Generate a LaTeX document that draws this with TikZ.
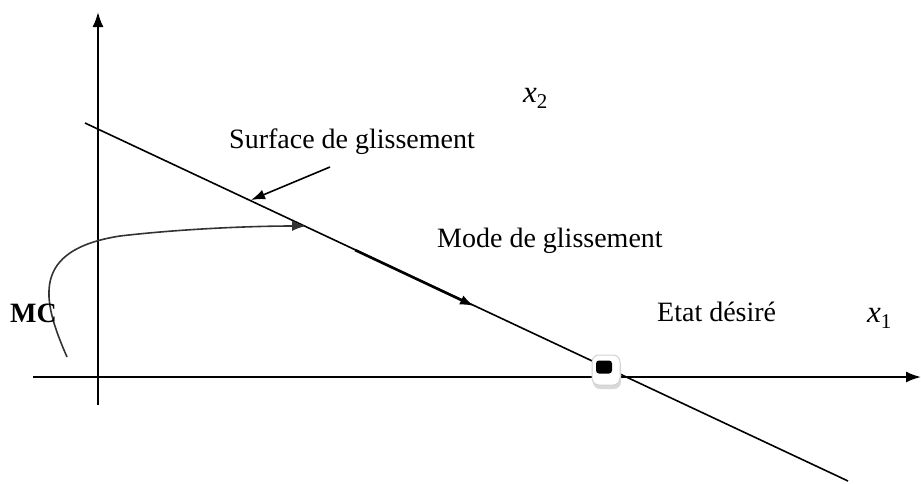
\documentclass[tikz,border=0pt]{standalone}
\usepackage{fontspec}
\setmainfont{Liberation Serif}
\usetikzlibrary{arrows.meta}
\newcommand{\varlbl}[1]{\textit{x}\raisebox{-6pt}{\fontsize{21}{24}\selectfont #1}}
\begin{document}
\begin{tikzpicture}[x=1pt,y=-1pt,
  axis/.style={line width=2pt,-{Latex[length=15pt,width=11pt]}},
  ln/.style={line width=1.6pt},
  tipped/.style={-{Latex[length=14pt,width=10pt]}},
  lbl/.style={font=\fontsize{28}{34}\selectfont,inner sep=0pt,anchor=base west},
  mathlbl/.style={font=\fontsize{31}{36}\selectfont,inner sep=0pt,anchor=base west},
  marker/.style={draw=gray!35,line width=1pt,fill=white,rounded corners=7pt,minimum width=28pt,minimum height=30pt,inner sep=0pt},
  core/.style={fill=black,rounded corners=3pt,minimum width=16pt,minimum height=13pt,inner sep=0pt},
]
\useasboundingbox (0,0) rectangle (921,483);
% coordinates
\coordinate (vb) at (98,405);
\coordinate (vt) at (98,12);
\coordinate (hl) at (33,377);
\coordinate (hr) at (921,377);
\coordinate (sa) at (85,123);
\coordinate (sb) at (848,481);
\coordinate (ma) at (355,250);
\coordinate (mb) at (474,306);
\coordinate (sp) at (330,167);
\coordinate (st) at (251,200);
\coordinate (c0) at (67,357);
\coordinate (c1) at (306,226);
% axes
\draw[axis] (vb) -- (vt);
\draw[axis] (hl) -- (hr);
% sliding surface
\draw[ln] (sa) -- (sb);
% sliding mode arrow
\draw[line width=2.6pt,tipped] (ma) -- (mb);
% label arrow
\draw[ln,tipped] (sp) -- (st);
% reaching trajectory
\draw[ln,black!80,tipped] (c0) .. controls (42,300) and (30,250) .. (120,236)
  .. controls (180,229) and (250,226) .. (c1);
% equilibrium marker
\fill[gray!30,rounded corners=7pt] (593,359) rectangle (621,389);
\node[marker] (eq) at (606,370) {};
\node[core] (eqc) at (604,367) {};
% labels
\node[lbl] (sg) at (229,148) {Surface de glissement};
\node[lbl] (mg) at (437,247) {Mode de glissement};
\node[lbl] (ed) at (657,321) {Etat désiré};
\node[lbl,font=\fontsize{28}{34}\selectfont\bfseries] (mc) at (10,322) {MC};
\node[mathlbl] (x2) at (523,102) {\varlbl{2}};
\node[mathlbl] (x1) at (867,322) {\varlbl{1}};
\end{tikzpicture}
\end{document}
